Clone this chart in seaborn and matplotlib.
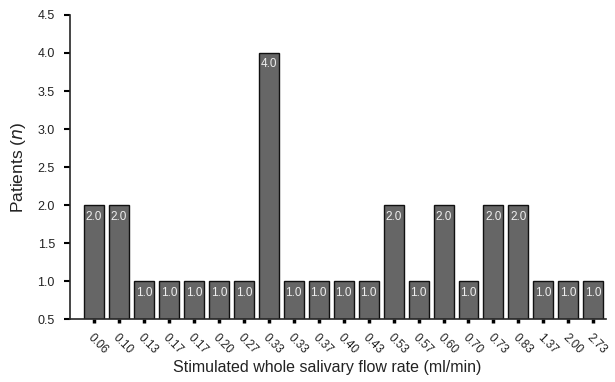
import numpy as np
import pandas as pd
import matplotlib
matplotlib.use("Agg")
import matplotlib.pyplot as plt
import seaborn as sns

# Data
flow_labels = ["0.06", "0.10", "0.13", "0.17", "0.17", "0.20", "0.27", "0.33",
               "0.33", "0.37", "0.40", "0.43", "0.53", "0.57", "0.60", "0.70",
               "0.73", "0.83", "1.37", "2.00", "2.73"]
patients = [2, 2, 1, 1, 1, 1, 1, 4, 1, 1, 1, 1, 2, 1, 2, 1, 2, 2, 1, 1, 1]
y_ticks = [0.5, 1.0, 1.5, 2.0, 2.5, 3.0, 3.5, 4.0, 4.5]

sns.set_style("ticks")
plt.rcParams['font.family'] = ['Liberation Sans', 'DejaVu Sans']

# duplicated flow values -> use a unique slot key, relabel ticks afterwards
df = pd.DataFrame({
    "slot": [str(i) for i in range(len(flow_labels))],
    "patients": patients,
})

fig = plt.figure(figsize=(6.15, 3.82), dpi=100)
ax = fig.add_axes([0.114, 0.164, 0.871, 0.797])

sns.barplot(data=df, x="slot", y="patients", color="#666666",
            edgecolor="#111111", linewidth=1.0, width=0.8, saturation=1,
            ax=ax)

for patch, val in zip(ax.patches, patients):
    ax.text(patch.get_x() + patch.get_width() / 2, val - 0.07, f"{val:.1f}",
            ha="center", va="top", color="#eeeeee", fontsize=8.5)

ax.set_ylim(0.5, 4.5)
ax.set_yticks(y_ticks)
ax.set_yticklabels([f"{t:.1f}" for t in y_ticks], fontsize=9, color="#222222")
ax.set_xlim(-0.96, 20.5)
ax.set_xticks(range(len(flow_labels)))
ax.set_xticklabels(flow_labels, rotation=-45, ha="left",
                   rotation_mode="anchor", fontsize=8.5, color="#222222")

ax.tick_params(axis="x", length=3, width=2.5, color="black", pad=6)
ax.tick_params(axis="y", length=4, width=1.5, color="black", pad=7)

for side in ["top", "right"]:
    ax.spines[side].set_visible(False)
ax.spines["left"].set_linewidth(1.2)
ax.spines["bottom"].set_linewidth(1.2)

ax.set_xlabel("Stimulated whole salivary flow rate (ml/min)", fontsize=11.5,
              color="#222222")
ax.xaxis.set_label_coords(0.48, -0.135)
ax.set_ylabel("Patients ($\\it{n}$)", fontsize=12.5, labelpad=7,
              color="#222222")

fig.savefig("out.png", dpi=100)
